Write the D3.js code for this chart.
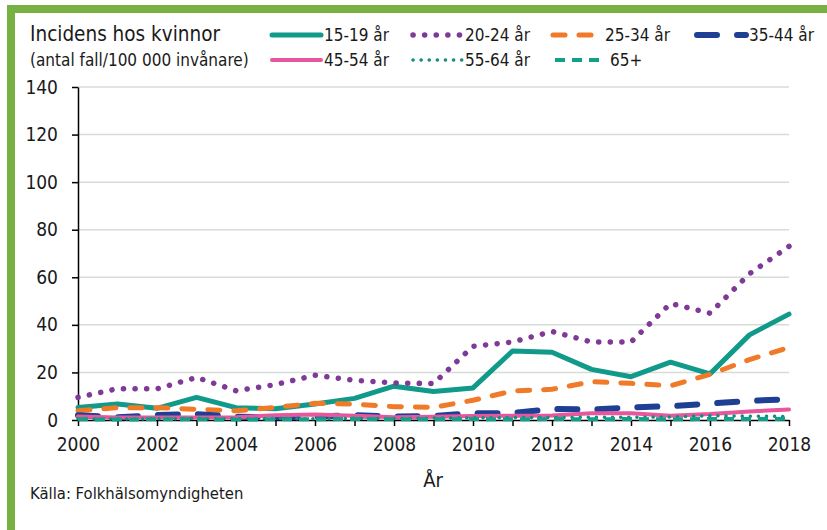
<!DOCTYPE html>
<html>
<head>
<meta charset="utf-8">
<script src="https://cdn.jsdelivr.net/npm/d3@7"></script>
<style>
  body { margin: 0; background: #fff; }
  svg { display: block; font-family: "DejaVu Sans Condensed", "DejaVu Sans", sans-serif; }
</style>
</head>
<body>
<div id="chart"></div>
<script>
// Data
const years = d3.range(2000, 2019);
const yTicks = [0, 20, 40, 60, 80, 100, 120, 140];
const xTickLabels = d3.range(2000, 2019, 2);

const age15_19 = [5.3, 6.7, 4.9, 9.5, 5.2, 4.7, 6.7, 9.1, 14.2, 12, 13.5, 29, 28.5, 21.3, 18.2, 24.3, 19.4, 35.8, 44.5];
const age20_24 = [9.5, 13.2, 13.1, 17.9, 12.3, 14.9, 18.8, 16.7, 15.6, 15.3, 31, 32.8, 37.2, 32.8, 32.8, 49, 44.9, 61.5, 73];
const age25_34 = [3.9, 5.2, 5.2, 4.5, 3.9, 5.3, 7, 6.7, 5.6, 5.3, 8.3, 12.2, 12.9, 16.1, 15.4, 14.4, 19.2, 25.4, 30.5];
const age35_44 = [2, 1.1, 2.1, 2.5, 1.4, 1.1, 1.4, 2.1, 1.4, 1.7, 2.8, 2.9, 4.6, 4.4, 5.3, 5.8, 6.9, 8, 8.8];
const age45_54 = [1.5, 1, 1, 1, 1.2, 2, 2.3, 1.8, 1.2, 1.4, 1.7, 1.8, 1.9, 2.8, 2.8, 1.8, 2.5, 3.6, 4.4];
const age55_64 = [0.5, 0.4, 0.5, 0.6, 0.5, 0.6, 0.5, 0.7, 0.6, 0.8, 0.9, 1, 1, 1.2, 1.1, 1.3, 1.8, 1.6, 1.5];
const age65plus = [0.3, 0.2, 0.3, 0.3, 0.2, 0.3, 0.3, 0.4, 0.3, 0.3, 0.4, 0.3, 0.4, 0.3, 0.4, 0.3, 0.4, 0.4, 0.5];

const series = [
  { name: "15-19 år", values: age15_19, color: "#11998a", width: 5, dash: null, cap: "round" },
  { name: "20-24 år", values: age20_24, color: "#7f3a97", width: 5.5, dash: "0.1,11.5", cap: "round" },
  { name: "25-34 år", values: age25_34, color: "#f07a28", width: 5, dash: "12,14", cap: "round" },
  { name: "35-44 år", values: age35_44, color: "#1f3f95", width: 6, dash: "20,20", cap: "round" },
  { name: "45-54 år", values: age45_54, color: "#e8569d", width: 4, dash: null, cap: "round" },
  { name: "55-64 år", values: age55_64, color: "#0f8f7a", width: 3.5, dash: "0.1,8", cap: "round" },
  { name: "65+", values: age65plus, color: "#13a08a", width: 4, dash: "10,7", cap: "butt" }
];

const W = 827, H = 530;
const svg = d3.select("#chart").append("svg")
  .attr("width", W).attr("height", H);

// green frame (top and left only)
svg.append("rect").attr("x", 7).attr("y", 5).attr("width", W - 7).attr("height", 8).attr("fill", "#77b043");
svg.append("rect").attr("x", 7).attr("y", 5).attr("width", 8).attr("height", H - 5).attr("fill", "#77b043");

const x = d3.scaleLinear().domain([2000, 2018]).range([78, 789]);
const y = d3.scaleLinear().domain([0, 140]).range([420, 87]);

// gridlines
svg.append("g")
  .selectAll("line")
  .data(yTicks.filter(d => d > 0))
  .join("line")
  .attr("x1", x(2000)).attr("x2", x(2018))
  .attr("y1", d => y(d)).attr("y2", d => y(d))
  .attr("stroke", "#d6dcd6").attr("stroke-width", 1.5);

// y axis
const yAxis = svg.append("g")
  .attr("transform", `translate(${x(2000)},0)`)
  .call(d3.axisLeft(y).tickValues(yTicks).tickSize(6).tickPadding(14).tickSizeOuter(0));
yAxis.select(".domain").attr("stroke", "#000").attr("stroke-width", 1.5);
yAxis.selectAll(".tick line").attr("stroke", "#000").attr("stroke-width", 1.5);
yAxis.selectAll("text").attr("font-size", 19).attr("fill", "#1a1a1a")
  .attr("font-family", "DejaVu Sans Condensed, DejaVu Sans, sans-serif");

// x axis
const xAxis = svg.append("g")
  .attr("transform", `translate(0,${y(0)})`)
  .call(d3.axisBottom(x).tickValues(years).tickSize(6).tickSizeOuter(0).tickPadding(12)
    .tickFormat(d => xTickLabels.includes(d) ? String(d) : ""));
xAxis.select(".domain").attr("stroke", "#000").attr("stroke-width", 1.5);
xAxis.selectAll(".tick line").attr("stroke", "#000").attr("stroke-width", 1.5);
xAxis.selectAll("text").attr("font-size", 19).attr("fill", "#1a1a1a")
  .attr("font-family", "DejaVu Sans Condensed, DejaVu Sans, sans-serif");

// lines
const line = d3.line()
  .x((d, i) => x(years[i]))
  .y(d => y(d));

series.forEach(s => {
  svg.append("path")
    .datum(s.values)
    .attr("fill", "none")
    .attr("stroke", s.color)
    .attr("stroke-width", s.width)
    .attr("stroke-linecap", s.cap)
    .attr("stroke-linejoin", "round")
    .attr("stroke-dasharray", s.dash)
    .attr("d", line);
});

// title in legend area
svg.append("text").attr("x", 30).attr("y", 41)
  .attr("font-size", 20.5).attr("fill", "#1a1a1a")
  .text("Incidens hos kvinnor");
svg.append("text").attr("x", 30).attr("y", 66)
  .attr("font-size", 17).attr("fill", "#1a1a1a")
  .text("(antal fall/100 000 invånare)");

// legend
const legendPos = [
  { x: 270, y: 35 }, { x: 411, y: 35 }, { x: 551, y: 35 }, { x: 695, y: 35 },
  { x: 270, y: 60 }, { x: 411, y: 60 }, { x: 553, y: 60 }
];
series.forEach((s, i) => {
  const p = legendPos[i];
  const g = svg.append("g").attr("transform", `translate(${p.x},${p.y})`);
  g.append("line")
    .attr("x1", 2).attr("x2", 51).attr("y1", 0).attr("y2", 0)
    .attr("stroke", s.color)
    .attr("stroke-width", s.width)
    .attr("stroke-linecap", s.cap)
    .attr("stroke-dasharray", s.dash);
  g.append("text").attr("x", s.name === "65+" ? 57 : 54).attr("y", 6)
    .attr("font-size", 17).attr("fill", "#1a1a1a")
    .text(s.name);
});

// axis title and source
svg.append("text").attr("x", 433).attr("y", 487)
  .attr("text-anchor", "middle").attr("font-size", 20).attr("fill", "#1a1a1a")
  .text("År");
svg.append("text").attr("x", 30).attr("y", 499)
  .attr("font-size", 16.5).attr("fill", "#1a1a1a")
  .text("Källa: Folkhälsomyndigheten");
</script>
</body>
</html>
